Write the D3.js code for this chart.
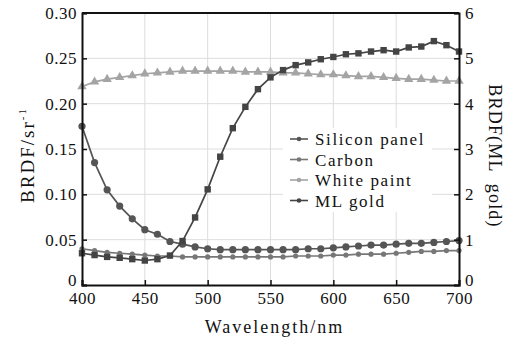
<!DOCTYPE html>
<html>
<head>
<meta charset="utf-8">
<script src="https://cdn.jsdelivr.net/npm/d3@7"></script>
<style>
  body { margin: 0; background: #fff; }
  svg text { font-family: "Liberation Serif", "Times New Roman", serif; fill: #111; }
</style>
</head>
<body>
<div id="chart"></div>
<script>
// wavelength grid, 400..700 every 10 nm
const wavelengths = [400,410,420,430,440,450,460,470,480,490,500,510,520,530,540,550,560,570,580,590,600,610,620,630,640,650,660,670,680,690,700];

// left axis (sr^-1)
const siliconPanel = [0.175,0.135,0.105,0.087,0.073,0.061,0.056,0.048,0.045,0.042,0.040,0.039,0.039,0.039,0.039,0.039,0.039,0.039,0.040,0.040,0.041,0.042,0.043,0.044,0.044,0.045,0.046,0.046,0.047,0.048,0.049];
const carbon = [0.040,0.038,0.036,0.035,0.034,0.033,0.032,0.032,0.031,0.031,0.031,0.031,0.031,0.031,0.031,0.031,0.031,0.032,0.032,0.032,0.033,0.033,0.034,0.034,0.034,0.035,0.036,0.037,0.037,0.038,0.038];
const whitePaint = [0.219,0.224,0.227,0.229,0.231,0.233,0.234,0.235,0.236,0.236,0.236,0.236,0.236,0.235,0.235,0.235,0.234,0.234,0.233,0.232,0.232,0.231,0.230,0.230,0.229,0.228,0.227,0.227,0.226,0.225,0.225];
// right axis
const mlGold = [0.70,0.66,0.62,0.60,0.57,0.54,0.57,0.65,0.97,1.49,2.11,2.83,3.46,3.93,4.32,4.58,4.74,4.85,4.91,4.98,5.03,5.09,5.11,5.15,5.18,5.15,5.24,5.26,5.38,5.29,5.15];

const xTicks = [400,450,500,550,600,650,700];
const yLeftTicks = [0,0.05,0.10,0.15,0.20,0.25,0.30];
const yRightTicks = [0,1,2,3,4,5,6];

const seriesNames = ["Silicon panel","Carbon","White paint","ML gold"];

const W = 506, H = 342;
const margin = {top: 13, right: 47, bottom: 57, left: 82},
  width = W - margin.left - margin.right,
  height = H - margin.top - margin.bottom;

const svg = d3.select("#chart").append("svg")
  .attr("width", W).attr("height", H);
const g = svg.append("g").attr("transform", `translate(${margin.left},${margin.top})`);

const x = d3.scaleLinear().domain([400,700]).range([0,width]);
const yL = d3.scaleLinear().domain([0,0.30]).range([height,0]);
const yR = d3.scaleLinear().domain([0,6]).range([height,0]);

// grid
g.append("g").selectAll("line").data(xTicks.slice(1,-1)).join("line")
  .attr("x1", d => x(d)).attr("x2", d => x(d)).attr("y1", 0).attr("y2", height)
  .attr("stroke", "#ddd").attr("stroke-width", 1);
g.append("g").selectAll("line").data(yLeftTicks.slice(1,-1)).join("line")
  .attr("x1", 0).attr("x2", width).attr("y1", d => yL(d)).attr("y2", d => yL(d))
  .attr("stroke", "#ddd").attr("stroke-width", 1);

// series
const series = [
  {name: seriesNames[0], vals: siliconPanel, y: yL, color: "#555", shape: "circle", r: 3.6},
  {name: seriesNames[1], vals: carbon, y: yL, color: "#777", shape: "circle", r: 2.6},
  {name: seriesNames[2], vals: whitePaint, y: yL, color: "#a4a4a4", shape: "triangle", r: 3.6},
  {name: seriesNames[3], vals: mlGold, y: yR, color: "#444", shape: "square", r: 3.2}
];

function marker(sel, s) {
  if (s.shape === "circle") {
    sel.append("circle").attr("r", s.r).attr("fill", s.color);
  } else if (s.shape === "square") {
    sel.append("rect").attr("x", -s.r).attr("y", -s.r).attr("width", 2*s.r).attr("height", 2*s.r).attr("fill", s.color);
  } else {
    sel.append("path").attr("d", d3.symbol(d3.symbolTriangle, 38)()).attr("fill", s.color);
  }
}

series.forEach(s => {
  const line = d3.line().x((d,i) => x(wavelengths[i])).y(d => s.y(d));
  g.append("path").datum(s.vals).attr("d", line)
    .attr("fill", "none").attr("stroke", s.color).attr("stroke-width", 1.7);
  const pts = g.append("g").selectAll("g").data(s.vals).join("g")
    .attr("transform", (d,i) => `translate(${x(wavelengths[i])},${s.y(d)})`);
  marker(pts, s);
});

// axes
const fs = "17px";
const ax = g.append("g").attr("transform", `translate(0,${height})`)
  .call(d3.axisBottom(x).tickValues(xTicks).tickSize(-5).tickPadding(7).tickFormat(d3.format("d")));
const ayl = g.append("g")
  .call(d3.axisLeft(yL).tickValues(yLeftTicks).tickSize(-5).tickPadding(5).tickFormat(d => d === 0 ? "0" : d3.format(".2f")(d)));
const ayr = g.append("g").attr("transform", `translate(${width},0)`)
  .call(d3.axisRight(yR).tickValues(yRightTicks).tickSize(-5).tickPadding(6).tickFormat(d3.format("d")));
[ax, ayl, ayr].forEach(a => {
  a.selectAll(".domain").attr("stroke", "#111").attr("stroke-width", 2);
  a.selectAll(".tick line").attr("stroke", "#111").attr("stroke-width", 1.5);
  a.selectAll("text").style("font-size", fs).style("letter-spacing", "0.5px")
    .style("font-family", '"Liberation Serif", serif').attr("fill", "#111");
});
// the two zero labels sit a little above the axis line, as in the original
ayl.selectAll(".tick").filter(d => d === 0).select("text").attr("dy", "0.05em");
ayr.selectAll(".tick").filter(d => d === 0).select("text").attr("dy", "0.05em");

// top frame
g.append("line").attr("x1", 0).attr("x2", width).attr("y1", 0).attr("y2", 0)
  .attr("stroke", "#111").attr("stroke-width", 2);

// axis titles
svg.append("text").attr("x", margin.left + width/2 + 4).attr("y", 333)
  .attr("text-anchor", "middle").style("font-size", "18px").style("letter-spacing", "2px")
  .text("Wavelength/nm");
const lt = svg.append("text")
  .attr("transform", `translate(34,${margin.top + height/2 + 6}) rotate(-90)`)
  .attr("text-anchor", "middle").style("font-size", "19px").style("letter-spacing", "2px");
lt.append("tspan").text("BRDF/sr");
lt.append("tspan").attr("dy", -8).style("font-size", "11px").text("-1");
svg.append("text")
  .attr("transform", `translate(489,156) rotate(90)`)
  .attr("text-anchor", "middle").style("font-size", "18px").style("letter-spacing", "1.2px").style("word-spacing", "6px")
  .text("BRDF(ML gold)");

// legend
const leg = g.append("g").attr("transform", `translate(${283 - margin.left},${128 - margin.top})`);
leg.append("rect").attr("width", 149).attr("height", 84).attr("fill", "#fff");
series.forEach((s, i) => {
  const row = leg.append("g").attr("transform", `translate(0,${11 + i*20.5})`);
  row.append("line").attr("x1", 7).attr("x2", 25).attr("stroke", s.color).attr("stroke-width", 1.6);
  row.append("circle").attr("cx", 16).attr("r", 2.3).attr("fill", s.color);
  row.append("text").attr("x", 32).attr("y", 6).style("font-size", "17px").style("letter-spacing", "1.6px")
    .text(s.name);
});
</script>
</body>
</html>
